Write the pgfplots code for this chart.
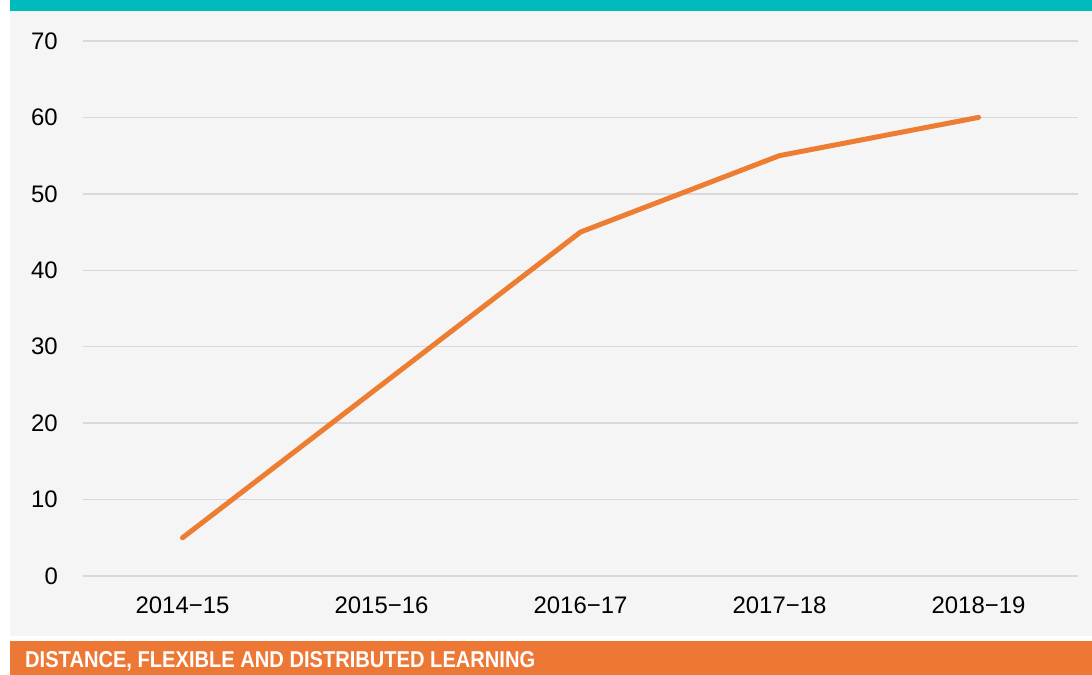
\documentclass[border=0pt]{standalone}
\usepackage{pgfplots}
\pgfplotsset{compat=1.18}
\usepackage{fontspec}
\setmainfont{Liberation Sans}
\definecolor{tealband}{RGB}{0,187,187}
\definecolor{orangeband}{RGB}{237,119,53}
\definecolor{linecol}{RGB}{237,125,49}
\definecolor{bgcol}{RGB}{245,245,245}
\definecolor{gridcol}{RGB}{217,217,217}
\begin{document}
\begin{tikzpicture}[x=1bp,y=1bp]
\path[use as bounding box] (-83,-99) rectangle (1009,576);
\fill[bgcol] (-73,-60) rectangle (1009,565);
\fill[tealband] (-73,565) rectangle (1009,576);
\fill[orangeband] (-73,-65) rectangle (1009,-99);
\node[anchor=base west, text=white, inner sep=0] at (-58,-92) {\resizebox{510bp}{16bp}{\bfseries DISTANCE, FLEXIBLE AND DISTRIBUTED LEARNING}};
\begin{axis}[at={(0,0)}, anchor=south west, scale only axis,
  width=995bp, height=535bp,
  xmin=-0.5, xmax=4.5, ymin=0, ymax=70,
  ytick={0,10,...,70}, xtick={0,1,2,3,4},
  xticklabels={2014−15,2015−16,2016−17,2017−18,2018−19},
  axis line style={draw=none}, major tick length=0pt,
  ymajorgrids, grid style={gridcol, line width=1.5bp},
  /pgf/number format/assume math mode=true,
  ticklabel style={font=\fontsize{24}{24}\selectfont, text=black},
  yticklabel style={anchor=east, inner sep=0pt, xshift=-25bp},
  xticklabel style={anchor=north, inner sep=0pt, yshift=-21bp},
  clip=false]
\addplot[linecol, line width=5bp, line cap=round, line join=round] coordinates {(0,5)(1,25)(2,45)(3,55)(4,60)};
\end{axis}
\end{tikzpicture}
\end{document}
